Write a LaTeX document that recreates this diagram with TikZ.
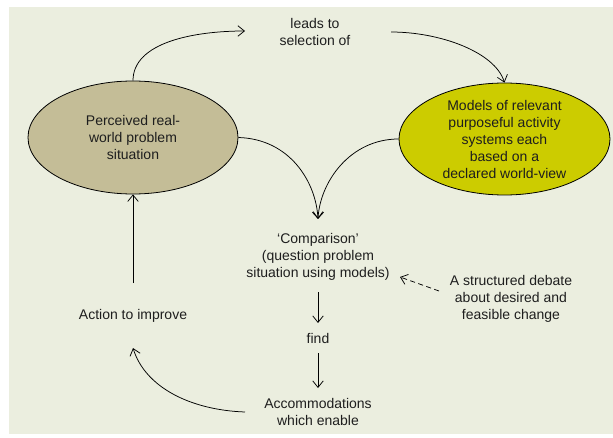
\documentclass[tikz,border=0pt]{standalone}
\usepackage{fontspec}
\setmainfont{Liberation Sans}
\usetikzlibrary{arrows.meta,shapes.geometric}
\definecolor{panelbg}{RGB}{235,238,223}
\definecolor{tanfill}{RGB}{196,189,151}
\definecolor{olivefill}{RGB}{204,204,0}
\definecolor{txt}{RGB}{30,30,30}
\begin{document}
\begin{tikzpicture}[x=1pt,y=1pt,
  every node/.style={text=txt,font=\fontsize{14}{17}\selectfont,align=center,inner sep=0pt},
  oval/.style={ellipse,draw=black,line width=0.8pt,inner sep=0pt},
  link/.style={draw=black,line width=0.75pt,-{Straight Barb[length=6.5pt,width=10.5pt]}},
  dashlink/.style={link,dash pattern=on 5pt off 3.5pt}]
  \useasboundingbox (0,0) rectangle (613,437);
  \fill[panelbg] (9,3) rectangle (613,430);

  % the two ovals
  \node[oval,fill=tanfill,minimum width=210pt,minimum height=113pt] (perceived) at (133,299.5)
    {Perceived real-\\world problem\\situation};
  \node[oval,fill=olivefill,minimum width=211pt,minimum height=112pt] (models) at (504.5,298)
    {Models of relevant\\purposeful activity\\systems each\\based on a\\declared world-view};

  % plain text steps
  \node (leads) at (315,405.5) {leads to\\selection of};
  \node (comparison) at (318,180.5) {‘Comparison’\\(question problem\\situation using models)};
  \node (debate) at (511,138) {A structured debate\\about desired and\\feasible change};
  \node (find) at (318,99) {find};
  \node (accom) at (318,25.5) {Accommodations\\which enable};
  \node (action) at (133,121) {Action to improve};

  % loose ends of the connectors
  \coordinate (leadsin) at (245,406);
  \coordinate (leadsout) at (391,405);
  \coordinate (compin) at (318,218);
  \coordinate (compout) at (318,145);
  \coordinate (compside) at (400,160);
  \coordinate (debateout) at (439,146);
  \coordinate (findin) at (318,114);
  \coordinate (findout) at (318,84);
  \coordinate (accomin) at (318,49);
  \coordinate (accomout) at (245,25);
  \coordinate (actionin) at (133,89);
  \coordinate (actionout) at (133,154);

  % connectors
  \draw[link] (perceived.north) .. controls (133,395) and (195,406) .. (leadsin);
  \draw[link] (leadsout) .. controls (440,405) and (495,385) .. (models.north);
  \draw[link] (perceived.east) .. controls (290,298) and (316,255) .. (compin);
  \draw[link] (models.west) .. controls (350,298) and (320,255) .. (compin);
  \draw[dashlink] (debateout) -- (compside);
  \draw[link] (compout) -- (findin);
  \draw[link] (findout) -- (accomin);
  \draw[link] (accomout) .. controls (190,27) and (145,50) .. (actionin);
  \draw[link] (actionout) -- (perceived.south);
\end{tikzpicture}
\end{document}
